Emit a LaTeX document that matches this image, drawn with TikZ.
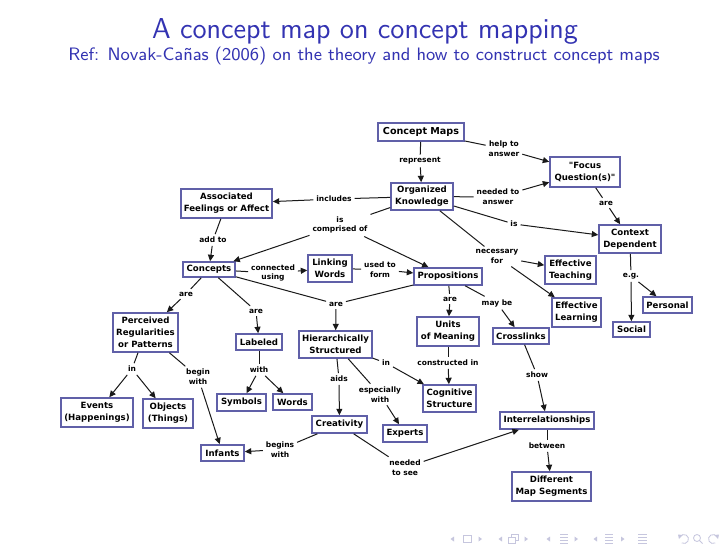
\documentclass[tikz,border=0pt]{standalone}
\usepackage{fontspec}
\newfontfamily\mapfont{DejaVu Sans}
\usetikzlibrary{arrows.meta}
\definecolor{titlecol}{rgb}{0.2,0.2,0.7}
\definecolor{boxcol}{RGB}{96,96,168}
\definecolor{linecol}{RGB}{25,25,25}
\definecolor{navcol}{RGB}{198,198,222}
\tikzset{
  cbox/.style={draw=boxcol, line width=0.8pt, fill=white, align=center, inner sep=0.5pt,
    font=\mapfont\bfseries\fontsize{4.3}{5.9}\selectfont, text=black},
  lbl/.style={font=\mapfont\bfseries\fontsize{3.75}{4.9}\selectfont, align=center, inner sep=1.3pt, text=black},
  ln/.style={draw=linecol, line width=0.5pt},
  arr/.style={ln, -{Triangle[length=3.2pt,width=3pt]}},
}
\begin{document}
\begin{tikzpicture}[x=0.5pt,y=-0.5pt]
\path[fill=white] (0,0) rectangle (728,546);
\useasboundingbox (0,0) rectangle (728,546);

% title
\node[font=\sffamily\fontsize{14.4}{17}\selectfont, text=titlecol, anchor=base, inner sep=0pt] (title) at (365,39) {A concept map on concept mapping};
\node[font=\sffamily\fontsize{9}{11}\selectfont, text=titlecol, anchor=base, inner sep=0pt] (subtitle) at (364,61) {Ref: Novak-Cañas (2006) on the theory and how to construct concept maps};

% concepts
\node[cbox, font=\mapfont\bfseries\fontsize{4.8}{6}\selectfont, minimum width=43pt, minimum height=9pt] (cm) at (421,132) {Concept Maps};
\node[cbox, minimum width=31pt, minimum height=13.5pt] (ok) at (422,196.5) {Organized\\Knowledge};
\node[cbox, minimum width=45.5pt, minimum height=14.5pt] (af) at (226.5,203.5) {Associated\\Feelings or Affect};
\node[cbox, minimum width=35pt, minimum height=15pt] (fq) at (585,172) {"Focus\\Question(s)"};
\node[cbox, minimum width=31pt, minimum height=14pt] (cd) at (630,239) {Context\\Dependent};
\node[cbox, minimum width=26pt, minimum height=7.5pt] (con) at (209,269.5) {Concepts};
\node[cbox, minimum width=22pt, minimum height=13.5pt] (lw) at (330,268.5) {Linking\\Words};
\node[cbox, minimum width=34pt, minimum height=8.5pt] (pr) at (448,276.5) {Propositions};
\node[cbox, minimum width=25.5pt, minimum height=14pt] (et) at (570.5,270) {Effective\\Teaching};
\node[cbox, minimum width=24.5pt, minimum height=14.5pt] (el) at (576.5,312.5) {Effective\\Learning};
\node[cbox, minimum width=24.5pt, minimum height=8pt] (pe) at (667.5,305) {Personal};
\node[cbox, minimum width=18.5pt, minimum height=7.5pt] (so) at (631.5,329.5) {Social};
\node[cbox, minimum width=31pt, minimum height=14.5pt] (um) at (448,331.5) {Units\\of Meaning};
\node[cbox, minimum width=28pt, minimum height=8pt] (cl) at (521,336) {Crosslinks};
\node[cbox, minimum width=26.5pt, minimum height=13.5pt] (cs) at (449.5,398.5) {Cognitive\\Structure};
\node[cbox, minimum width=47pt, minimum height=8.5pt] (ir) at (547,420.5) {Interrelationships};
\node[cbox, minimum width=39.5pt, minimum height=14.5pt] (dm) at (551.5,486.5) {Different\\Map Segments};
\node[cbox, minimum width=22pt, minimum height=8.5pt] (ex) at (405,433.5) {Experts};
\node[cbox, minimum width=32.5pt, minimum height=19.5pt] (prp) at (145.5,332.5) {Perceived\\Regularities\\or Patterns};
\node[cbox, minimum width=23pt, minimum height=8pt] (lb) at (259,342) {Labeled};
\node[cbox, minimum width=36.5pt, minimum height=13.5pt] (hs) at (335.5,344.5) {Hierarchically\\Structured};
\node[cbox, minimum width=24.5pt, minimum height=8.5pt] (sy) at (241.5,402.5) {Symbols};
\node[cbox, minimum width=19.5pt, minimum height=8pt] (wo) at (292.5,402) {Words};
\node[cbox, minimum width=27.5pt, minimum height=8.5pt] (cr) at (339.5,424.5) {Creativity};
\node[cbox, minimum width=21.5pt, minimum height=8pt] (inf) at (222.5,453) {Infants};
\node[cbox, minimum width=36pt, minimum height=14.5pt] (ev) at (97,412.5) {Events\\(Happenings)};
\node[cbox, minimum width=25pt, minimum height=14.5pt] (ob) at (168,413.5) {Objects\\(Things)};

% linking phrases
\node[lbl] (l1) at (420,161) {represent};
\node[lbl] (l2) at (504,149) {help to\\answer};
\node[lbl] (l3) at (334,199) {includes};
\node[lbl] (l4) at (498,197) {needed to\\answer};
\node[lbl] (l5) at (606,203) {are};
\node[lbl] (l6) at (514,224) {is};
\node[lbl] (l7) at (340,225) {is\\comprised of};
\node[lbl] (l8) at (213,240) {add to};
\node[lbl] (l9) at (497,256.5) {necessary\\for};
\node[lbl] (l10) at (631,276) {e.g.};
\node[lbl] (l11) at (273,273) {connected\\using};
\node[lbl] (l12) at (380,269.5) {used to\\form};
\node[lbl] (l13) at (186,294) {are};
\node[lbl] (l14) at (256,311) {are};
\node[lbl] (l15) at (336,304) {are};
\node[lbl] (l16) at (450,299) {are};
\node[lbl] (l17) at (497,303) {may be};
\node[lbl] (l18) at (448,363) {constructed in};
\node[lbl] (l19) at (386,363) {in};
\node[lbl] (l20) at (537,375) {show};
\node[lbl] (l21) at (547,446) {between};
\node[lbl] (l22) at (405,467.5) {needed\\to see};
\node[lbl] (l23) at (132,369) {in};
\node[lbl] (l24) at (198,377) {begin\\with};
\node[lbl] (l25) at (259,370) {with};
\node[lbl] (l26) at (339,379) {aids};
\node[lbl] (l27) at (380,394.5) {especially\\with};
\node[lbl] (l28) at (280,449.5) {begins\\with};

% connectors
\draw[ln] (cm) -- (l1); \draw[arr] (l1) -- (ok);
\draw[ln] (cm) -- (l2); \draw[arr] (l2) -- (fq);
\draw[ln] (ok) -- (l3); \draw[arr] (l3) -- (af);
\draw[ln] (ok) -- (l4); \draw[arr] (l4) -- (fq);
\draw[ln] (fq) -- (l5); \draw[arr] (l5) -- (cd);
\draw[ln] (ok) -- (l6); \draw[arr] (l6) -- (cd);
\draw[ln] (ok) -- (l7); \draw[arr] (l7) -- (con); \draw[arr] (l7) -- (pr);
\draw[ln] (af) -- (l8); \draw[arr] (l8) -- (con);
\draw[ln] (ok) -- (l9); \draw[arr] (l9) -- (et); \draw[arr] (l9) -- (el);
\draw[ln] (cd) -- (l10); \draw[arr] (l10) -- (so); \draw[arr] (l10) -- (pe);
\draw[ln] (con) -- (l11); \draw[arr] (l11) -- (lw);
\draw[ln] (lw) -- (l12); \draw[arr] (l12) -- (pr);
\draw[ln] (con) -- (l13); \draw[arr] (l13) -- (prp);
\draw[ln] (con) -- (l14); \draw[arr] (l14) -- (lb);
\draw[ln] (con) -- (l15); \draw[ln] (pr) -- (l15); \draw[arr] (l15) -- (hs);
\draw[ln] (pr) -- (l16); \draw[arr] (l16) -- (um);
\draw[ln] (pr) -- (l17); \draw[arr] (l17) -- (cl);
\draw[ln] (um) -- (l18); \draw[arr] (l18) -- (cs);
\draw[ln] (hs) -- (l19); \draw[arr] (l19) -- (cs);
\draw[ln] (cl) -- (l20); \draw[arr] (l20) -- (ir);
\draw[ln] (ir) -- (l21); \draw[arr] (l21) -- (dm);
\draw[ln] (cr) -- (l22); \draw[arr] (l22) -- (ir);
\draw[ln] (prp) -- (l23); \draw[arr] (l23) -- (ev); \draw[arr] (l23) -- (ob);
\draw[ln] (prp) -- (l24); \draw[arr] (l24) -- (inf);
\draw[ln] (lb) -- (l25); \draw[arr] (l25) -- (sy); \draw[arr] (l25) -- (wo);
\draw[ln] (hs) -- (l26); \draw[arr] (l26) -- (cr);
\draw[ln] (hs) -- (l27); \draw[arr] (l27) -- (ex);
\draw[ln] (cr) -- (l28); \draw[arr] (l28) -- (inf);

% beamer navigation symbols
\begin{scope}[line width=0.4pt]
\fill[navcol] (454,536.5) -- (450.5,539) -- (454,541.5) -- cycle;
\draw[navcol] (463.5,535.5) rectangle (471.5,542);
\fill[navcol] (478.5,536.5) -- (482,539) -- (478.5,541.5) -- cycle;
\fill[navcol] (502,536.5) -- (498.5,539) -- (502,541.5) -- cycle;
\draw[navcol] (511.5,534.5) rectangle (518.5,540.5);
\draw[navcol, fill=white] (508,537.5) rectangle (515,543.5);
\fill[navcol] (524.5,536.5) -- (528,539) -- (524.5,541.5) -- cycle;
\fill[navcol] (550,536.5) -- (546.5,539) -- (550,541.5) -- cycle;
\foreach \yy in {534.5,537.5,540.5,543.5} \draw[navcol] (560,\yy) -- (568,\yy);
\fill[navcol] (574.5,536.5) -- (578,539) -- (574.5,541.5) -- cycle;
\fill[navcol] (597,536.5) -- (593.5,539) -- (597,541.5) -- cycle;
\foreach \yy in {534.5,537.5,540.5,543.5} \draw[navcol] (605,\yy) -- (613,\yy);
\fill[navcol] (621,536.5) -- (624.5,539) -- (621,541.5) -- cycle;
\foreach \yy in {534.5,537.5,540.5,543.5} \draw[navcol] (638,\yy) -- (647,\yy);
\draw[navcol] (684,539) ++(-150:4.5) arc (-150:120:4.5);
\fill[navcol] (678,534.5) -- (682.5,535) -- (679,539) -- cycle;
\draw[navcol] (697,538) circle (3.5);
\draw[navcol] (699.5,540.5) -- (702.5,543.5);
\draw[navcol] (713,539) ++(-30:4.5) arc (-30:-300:4.5);
\fill[navcol] (719,534.5) -- (714.5,535) -- (718,539) -- cycle;
\end{scope}
\end{tikzpicture}
\end{document}
